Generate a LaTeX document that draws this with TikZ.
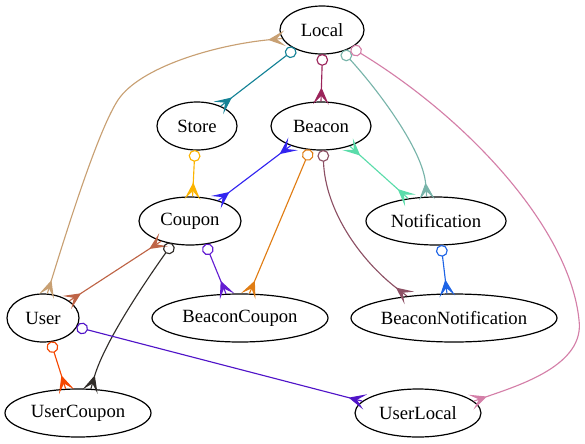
\documentclass[tikz,border=0pt]{standalone}
\usepackage{fontspec}
\setmainfont{Liberation Serif}
\usetikzlibrary{shapes.geometric, arrows.meta}

\pgfdeclarearrow{
  name = Crow,
  setup code = {
    \pgfarrowssettipend{0pt}
    \pgfarrowssetlineend{-9.5pt}
    \pgfarrowssetbackend{-9.5pt}
    \pgfarrowssetvisualbackend{-9.5pt}
    \pgfarrowshullpoint{0pt}{4.4pt}
    \pgfarrowshullpoint{0pt}{-4.4pt}
    \pgfarrowshullpoint{-9.5pt}{0pt}
  },
  drawing code = {
    \pgfsetdash{}{0pt}
    \pgfsetmiterjoin
    \pgfpathmoveto{\pgfqpoint{-9.5pt}{0pt}}
    \pgfpathlineto{\pgfqpoint{0pt}{4.4pt}}
    \pgfpathlineto{\pgfqpoint{-4.75pt}{0pt}}
    \pgfpathlineto{\pgfqpoint{0pt}{-4.4pt}}
    \pgfpathclose
    \pgfusepathqfillstroke
    \pgfpathmoveto{\pgfqpoint{-4.75pt}{0pt}}
    \pgfpathlineto{\pgfqpoint{0pt}{0pt}}
    \pgfusepathqstroke
  }
}

\pgfdeclarearrow{
  name = ODot,
  setup code = {
    \pgfarrowssettipend{0pt}
    \pgfarrowssetlineend{-8pt}
    \pgfarrowssetbackend{-8pt}
    \pgfarrowssetvisualbackend{-8pt}
    \pgfarrowshullpoint{0pt}{4pt}
    \pgfarrowshullpoint{0pt}{-4pt}
    \pgfarrowshullpoint{-8pt}{4pt}
    \pgfarrowshullpoint{-8pt}{-4pt}
  },
  drawing code = {
    \pgfsetdash{}{0pt}
    \pgfpathcircle{\pgfqpoint{-4pt}{0pt}}{4pt}
    \pgfusepathqstroke
  }
}

\definecolor{cTan}{RGB}{200,160,115}
\definecolor{cTeal}{RGB}{20,130,150}
\definecolor{cMaroon}{RGB}{155,35,90}
\definecolor{cGreyTeal}{RGB}{120,180,170}
\definecolor{cPink}{RGB}{212,127,168}
\definecolor{cGold}{RGB}{252,180,0}
\definecolor{cBlue}{RGB}{50,36,240}
\definecolor{cAqua}{RGB}{90,220,170}
\definecolor{cOrange}{RGB}{224,125,20}
\definecolor{cMauve}{RGB}{140,80,100}
\definecolor{cBlueTwo}{RGB}{30,100,230}
\definecolor{cSienna}{RGB}{190,100,70}
\definecolor{cDark}{RGB}{48,44,40}
\definecolor{cPurple}{RGB}{100,30,210}
\definecolor{cRed}{RGB}{245,70,0}
\definecolor{cViolet}{RGB}{80,20,200}

\tikzset{
  ent/.style={ellipse, draw=black, line width=0.9pt, inner sep=0pt,
    minimum height=36pt,
    label={[font=\fontsize{14}{16}\selectfont, inner sep=0pt]center:#1}},
  wd/.style={minimum width=#1*0.75pt},
  rel/.style={line width=0.85pt, color=#1},
}

\begin{document}
\begin{tikzpicture}[x=0.75pt, y=-0.75pt]
\useasboundingbox (0,0) rectangle (585,443);

\node[ent=Local, wd=84] (Local) at (322,30) {};
\node[ent=Store, wd=80] (Store) at (197,126) {};
\node[ent=Beacon, wd=100] (Beacon) at (321,126) {};
\node[ent=Coupon, wd=102] (Coupon) at (190,221) {};
\node[ent=Notification, wd=140] (Notification) at (436,221) {};
\node[ent=User, wd=72] (User) at (43,318) {};
\node[ent=BeaconCoupon, wd=176] (BeaconCoupon) at (240,318) {};
\node[ent=BeaconNotification, wd=206] (BeaconNotification) at (454,318) {};
\node[ent=UserCoupon, wd=146] (UserCoupon) at (78,413) {};
\node[ent=UserLocal, wd=126] (UserLocal) at (418,413) {};

\draw[rel=cTan, Crow-Crow] (Local.192) .. controls (215,45) and (140,67) .. (118,100)
  .. controls (99,129) and (70,220) .. (User.80);
\draw[rel=cTeal, ODot-Crow] (Local.215) -- (Store.40);
\draw[rel=cMaroon, ODot-Crow] (Local.271) -- (Beacon.90);
\draw[rel=cGreyTeal, ODot-Crow] (Local.314) .. controls (378,90) and (423,150) .. (Notification.111);
\draw[rel=cPink, ODot-Crow] (Local.329) .. controls (470,120) and (570,230) .. (579,320)
  .. controls (585,365) and (520,385) .. (UserLocal.12);
\draw[rel=cGold, ODot-Crow] (Store.265) -- (Coupon.84);
\draw[rel=cBlue, Crow-Crow] (Beacon.213) -- (Coupon.36);
\draw[rel=cAqua, Crow-Crow] (Beacon.325) -- (Notification.141);
\draw[rel=cOrange, ODot-Crow] (Beacon.245) -- (BeaconCoupon.69);
\draw[rel=cMauve, ODot-Crow] (Beacon.275) .. controls (325,210) and (360,260) .. (BeaconNotification.155);
\draw[rel=cBlueTwo, ODot-Crow] (Notification.282) -- (BeaconNotification.106);
\draw[rel=cSienna, Crow-Crow] (Coupon.215) -- (User.33);
\draw[rel=cDark, ODot-Crow] (Coupon.232) .. controls (150,275) and (105,340) .. (UserCoupon.62);
\draw[rel=cPurple, ODot-Crow] (Coupon.304) -- (BeaconCoupon.120);
\draw[rel=cRed, ODot-Crow] (User.288) -- (UserCoupon.117);
\draw[rel=cViolet, ODot-Crow] (User.345) -- (UserLocal.168);
\end{tikzpicture}
\end{document}
